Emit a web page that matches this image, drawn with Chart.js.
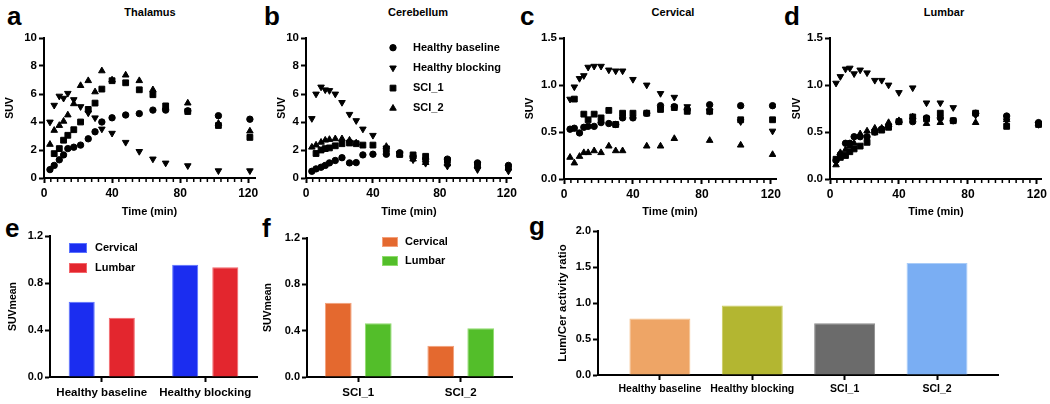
<!DOCTYPE html>
<html>
<head>
<meta charset="utf-8">
<script src="https://cdn.jsdelivr.net/npm/chart.js@4.4.1/dist/chart.umd.min.js"></script>
<style>
  html, body { margin: 0; padding: 0; background: #fff; }
  #fig { position: relative; width: 1050px; height: 404px; overflow: hidden;
         font-family: 'Liberation Sans', Arial, Helvetica, sans-serif; font-weight: bold; color: #000; }
  .box { position: absolute; }
  .letter { position: absolute; font-size: 26px; line-height: 26px; }
  .ptitle { position: absolute; font-size: 11px; line-height: 13px; transform: translateX(-50%); white-space: nowrap; }
</style>
</head>
<body>
<div id="fig">
  <div class="letter" style="left:7px;top:3px">a</div>
  <div class="letter" style="left:264px;top:3px">b</div>
  <div class="letter" style="left:520px;top:3px">c</div>
  <div class="letter" style="left:784px;top:3px">d</div>
  <div class="letter" style="left:5px;top:215px">e</div>
  <div class="letter" style="left:262px;top:215px">f</div>
  <div class="letter" style="left:529px;top:213px">g</div>

  <div class="ptitle" style="left:150px;top:6px">Thalamus</div>
  <div class="ptitle" style="left:418px;top:6px">Cerebellum</div>
  <div class="ptitle" style="left:673px;top:6px">Cervical</div>
  <div class="ptitle" style="left:944px;top:6px">Lumbar</div>

  <div class="box"><canvas id="chartA"></canvas></div>
  <div class="box"><canvas id="chartB"></canvas></div>
  <div class="box"><canvas id="chartC"></canvas></div>
  <div class="box"><canvas id="chartD"></canvas></div>
  <div class="box"><canvas id="chartE"></canvas></div>
  <div class="box"><canvas id="chartF"></canvas></div>
  <div class="box"><canvas id="chartG"></canvas></div>
</div>

<script>
const FONT = "'Liberation Sans', Arial, Helvetica, sans-serif";

// frame times (min), shared by all time-activity curves
const TIMES = [3.5, 6, 9, 11.5, 14, 17.5, 21.5, 26, 30, 34, 40, 48, 56, 64, 71.5, 84.5, 102.5, 121];
const SERIES_NAMES = ["Healthy baseline", "Healthy blocking", "SCI_1", "SCI_2"];

const THAL_BASELINE = [0.6, 0.9, 1.3, 1.65, 2.1, 2.2, 2.35, 2.8, 3.3, 4.0, 4.3, 4.5, 4.6, 4.85, 4.85, 4.8, 4.45, 4.2];
const THAL_BLOCKING = [4.0, 5.2, 5.85, 5.7, 6.05, 5.6, 5.1, 4.65, 4.3, 3.5, 3.2, 2.55, 1.9, 1.36, 1.07, 0.88, 0.52, 0.52];
const THAL_SCI1 = [null, 1.74, 2.1, 2.7, 3.05, 3.45, 4.0, 4.9, 5.35, 6.35, 6.95, 6.8, 6.3, 5.95, 5.15, 4.75, 3.75, 2.9];
const THAL_SCI2 = [2.4, 3.4, 3.75, 4.05, 4.5, 5.3, 6.6, 6.95, 6.15, 7.65, 7.0, 7.35, 6.95, 6.3, 5.05, 5.35, 3.9, 3.35];

const CER_BASELINE = [0.48, 0.65, 0.77, 0.9, 1.08, 1.25, 1.45, 1.08, 1.1, 1.65, 1.7, 1.7, 1.8, 1.55, 1.35, 1.35, 1.08, 0.9];
const CER_BLOCKING = [4.25, 6.0, 6.5, 6.3, 6.25, 6.0, 5.4, 4.55, 4.1, 3.5, 3.05, 2.15, 1.75, 1.3, 1.05, 0.85, 0.6, 0.5];
const CER_SCI1 = [null, 1.75, 2.0, 2.1, 2.15, 2.3, 2.45, 2.5, 2.45, 2.35, 2.35, 2.05, 1.68, 1.65, 1.55, 1.25, 0.95, 0.77];
const CER_SCI2 = [2.2, 2.35, 2.55, 2.7, 2.75, 2.8, 2.8, 2.7, 2.5, null, null, 2.25, 1.7, 1.35, 1.1, 1.0, 0.85, 0.7];

const CERV_BASELINE = [0.53, 0.54, 0.49, 0.55, 0.56, 0.56, 0.6, 0.59, 0.58, 0.65, 0.65, 0.7, 0.78, 0.77, 0.74, 0.79, 0.78, 0.78];
const CERV_BLOCKING = [0.85, 0.98, 1.07, 1.1, 1.19, 1.2, 1.2, 1.16, 1.15, 1.15, 1.06, 1.0, 0.91, 0.87, 0.77, 0.72, 0.61, 0.51];
const CERV_SCI1 = [null, 0.85, null, 0.69, 0.63, 0.69, 0.65, 0.73, 0.58, 0.7, 0.7, 0.7, 0.74, 0.76, 0.72, 0.72, 0.63, 0.63];
const CERV_SCI2 = [0.23, 0.17, 0.24, 0.28, 0.28, 0.3, 0.28, 0.35, 0.3, 0.3, null, 0.35, 0.35, 0.43, null, 0.41, 0.36, 0.26];

const LUMB_BASELINE = [0.2, 0.26, 0.38, 0.38, 0.45, 0.45, 0.45, 0.5, 0.53, 0.56, 0.61, 0.61, 0.65, 0.65, 0.62, 0.7, 0.67, 0.6];
const LUMB_BLOCKING = [1.02, 1.09, 1.17, 1.18, 1.12, 1.16, 1.13, 1.05, 1.05, 1.0, 0.92, 0.97, 0.81, 0.81, 0.76, 0.68, 0.62, 0.58];
const LUMB_SCI1 = [0.21, 0.23, 0.25, 0.29, 0.32, 0.35, 0.39, 0.5, 0.52, 0.55, 0.61, 0.66, 0.64, 0.7, 0.62, 0.7, 0.56, 0.58];
const LUMB_SCI2 = [0.15, 0.28, 0.31, 0.35, 0.38, 0.48, 0.51, 0.54, 0.54, 0.6, 0.62, 0.66, 0.59, 0.6, null, 0.6, 0.63, 0.59];

// SUVmean bars
const E_GROUPS = ["Healthy baseline", "Healthy blocking"];
const E_CERVICAL = [0.64, 0.955];
const E_LUMBAR = [0.505, 0.935];

const F_GROUPS = ["SCI_1", "SCI_2"];
const F_CERVICAL = [0.64, 0.27];
const F_LUMBAR = [0.465, 0.42];

// lumbar / cerebellum ratio
const G_GROUPS = ["Healthy baseline", "Healthy blocking", "SCI_1", "SCI_2"];
const G_RATIO = [0.785, 0.965, 0.72, 1.555];

const MARKERS = [
  { pointStyle: "circle", rotation: 0, radius: 3.2 },
  { pointStyle: "triangle", rotation: 180, radius: 3.8 },
  { pointStyle: "rect", rotation: 0, radius: 4.1 },
  { pointStyle: "triangle", rotation: 0, radius: 3.8 },
];

Chart.defaults.font.family = FONT;
Chart.defaults.font.weight = "bold";
Chart.defaults.color = "#000";
Chart.defaults.animation = false;
Chart.defaults.events = [];

// small ticks between the labelled time ticks
const minorTicks = {
  id: "minorTicks",
  afterDraw(chart, args, o) {
    if (!o.step) return;
    const sx = chart.scales.x;
    const ctx = chart.ctx;
    const bottom = chart.chartArea.bottom;
    ctx.save();
    ctx.strokeStyle = "#000";
    ctx.lineWidth = 1.5;
    for (let v = o.step; v <= o.upTo; v += o.step) {
      if (v % o.major === 0) continue;
      const px = sx.getPixelForValue(v);
      ctx.beginPath();
      ctx.moveTo(px, bottom);
      ctx.lineTo(px, bottom + 4);
      ctx.stroke();
    }
    ctx.restore();
  },
};

// legend placed inside the plot like the original figure
const panelLegend = {
  id: "panelLegend",
  afterDraw(chart, args, o) {
    if (!o.show) return;
    const { ctx, chartArea } = chart;
    ctx.save();
    ctx.textBaseline = "middle";
    chart.data.datasets.forEach((ds, i) => {
      const y = chartArea.top + o.dy + i * o.gap;
      const x = chartArea.left + o.dx;
      if (o.kind === "point") {
        ctx.fillStyle = "#000";
        ctx.strokeStyle = "#000";
        ctx.lineWidth = 1;
        Chart.helpers.drawPoint(ctx, {
          pointStyle: ds.pointStyle, rotation: ds.pointRotation, radius: ds.pointRadius, borderWidth: 1,
        }, x, y);
      } else {
        ctx.fillStyle = ds.backgroundColor;
        ctx.fillRect(x, y - o.boxH / 2, o.boxW, o.boxH);
        ctx.strokeStyle = ds.borderColor;
        ctx.lineWidth = 1;
        ctx.strokeRect(x + 0.5, y - o.boxH / 2 + 0.5, o.boxW - 1, o.boxH - 1);
      }
      ctx.font = `bold ${o.fontSize}px ${FONT}`;
      ctx.fillStyle = "#000";
      ctx.fillText(ds.label, chartArea.left + o.textDx, y);
    });
    ctx.restore();
  },
};

function place(canvasId, frame) {
  const box = document.getElementById(canvasId).parentNode;
  box.style.left = frame.x + "px";
  box.style.top = frame.y + "px";
  box.style.width = frame.w + "px";
  box.style.height = frame.h + "px";
}

function axisLines() {
  return {
    grid: { display: true, drawOnChartArea: false, drawTicks: true, tickLength: 5, tickWidth: 2, tickColor: "#000" },
    border: { display: true, color: "#000", width: 2 },
  };
}

function layoutFor(frame, area) {
  return {
    padding: { left: 0, bottom: 0, top: area.t - frame.y, right: frame.x + frame.w - area.r },
  };
}

function scatterPanel(canvasId, frame, area, o) {
  place(canvasId, frame);
  const yTitleSize = 10.5;
  const datasets = o.series.map((vals, i) => ({
    label: SERIES_NAMES[i],
    data: TIMES.map((t, j) => ({ x: t, y: vals[j] })).filter((p) => p.y !== null),
    pointStyle: MARKERS[i].pointStyle,
    pointRotation: MARKERS[i].rotation,
    pointRadius: MARKERS[i].radius,
    pointBackgroundColor: "#000",
    pointBorderColor: "#000",
    pointBorderWidth: 1,
  }));

  new Chart(document.getElementById(canvasId), {
    type: "scatter",
    data: { datasets },
    plugins: [minorTicks, panelLegend],
    options: {
      responsive: true,
      maintainAspectRatio: false,
      layout: layoutFor(frame, area),
      scales: {
        x: {
          type: "linear",
          min: 0,
          max: o.xMax,
          ...axisLines(),
          ticks: { stepSize: 40, includeBounds: false, padding: 3, font: { size: 12 } },
          title: { display: true, text: "Time (min)", font: { size: 11 }, padding: { top: 0, bottom: 3 } },
          afterFit: (s) => { s.height = frame.y + frame.h - area.b; },
        },
        y: {
          min: 0,
          max: o.yMax,
          ...axisLines(),
          ticks: { stepSize: o.yStep, padding: 2, font: { size: 11.5 }, callback: (v) => v.toFixed(o.decimals) },
          title: {
            display: true, text: "SUV", font: { size: yTitleSize },
            padding: { top: o.yTitleX - frame.x - yTitleSize * 0.6, bottom: 0 },
          },
          afterFit: (s) => { s.width = area.l - frame.x; },
        },
      },
      plugins: {
        legend: { display: false },
        tooltip: { enabled: false },
        minorTicks: { step: 4, major: 40, upTo: 120 },
        panelLegend: o.legend || {},
      },
    },
  });
}

function barPanel(canvasId, frame, area, o) {
  place(canvasId, frame);
  const ySize = o.yTitleSize;
  const xAxis = o.linear
    ? {
        type: "linear", min: o.xMin, max: o.xMax, offset: false,
        ticks: { stepSize: 1, includeBounds: false, autoSkip: false, maxRotation: 0, padding: 3,
                 font: { size: o.xFont }, callback: (v) => o.groups[v] },
      }
    : {
        type: "category", offset: true,
        ticks: { autoSkip: false, maxRotation: 0, padding: 4, font: { size: o.xFont } },
      };
  const lines = axisLines();
  lines.grid.offset = false;

  new Chart(document.getElementById(canvasId), {
    type: "bar",
    data: { labels: o.linear ? undefined : o.groups, datasets: o.datasets },
    plugins: [panelLegend],
    options: {
      responsive: true,
      maintainAspectRatio: false,
      layout: layoutFor(frame, area),
      datasets: { bar: { categoryPercentage: o.catPct, barPercentage: o.barPct } },
      scales: {
        x: {
          ...xAxis,
          ...lines,
          afterFit: (s) => { s.height = frame.y + frame.h - area.b; },
        },
        y: {
          min: 0,
          max: o.yMax,
          ...axisLines(),
          ticks: { stepSize: o.yStep, padding: 2, font: { size: 11 }, callback: (v) => v.toFixed(1) },
          title: {
            display: true, text: o.yTitle, font: { size: ySize },
            padding: { top: o.yTitleX - frame.x - ySize * 0.6, bottom: 0 },
          },
          afterFit: (s) => { s.width = area.l - frame.x; },
        },
      },
      plugins: {
        legend: { display: false },
        tooltip: { enabled: false },
        panelLegend: o.legend || {},
      },
    },
  });
}

scatterPanel("chartA", { x: 0, y: 20, w: 262, h: 202 }, { l: 44, t: 38, r: 255, b: 178 }, {
  series: [THAL_BASELINE, THAL_BLOCKING, THAL_SCI1, THAL_SCI2],
  xMax: 124, yMax: 10, yStep: 2, decimals: 0, yTitleX: 10.5,
});

scatterPanel("chartB", { x: 272, y: 20, w: 248, h: 202 }, { l: 306, t: 38, r: 512, b: 178 }, {
  series: [CER_BASELINE, CER_BLOCKING, CER_SCI1, CER_SCI2],
  xMax: 123, yMax: 10, yStep: 2, decimals: 0, yTitleX: 282,
  legend: { show: true, kind: "point", dx: 87, textDx: 107, dy: 9.7, gap: 20.2, fontSize: 11 },
});

scatterPanel("chartC", { x: 520, y: 20, w: 264, h: 202 }, { l: 564, t: 38, r: 778, b: 179 }, {
  series: [CERV_BASELINE, CERV_BLOCKING, CERV_SCI1, CERV_SCI2],
  xMax: 123, yMax: 1.5, yStep: 0.5, decimals: 1, yTitleX: 530.5,
});

scatterPanel("chartD", { x: 786, y: 20, w: 264, h: 202 }, { l: 830, t: 38, r: 1043, b: 179 }, {
  series: [LUMB_BASELINE, LUMB_BLOCKING, LUMB_SCI1, LUMB_SCI2],
  xMax: 123, yMax: 1.5, yStep: 0.5, decimals: 1, yTitleX: 797,
});

barPanel("chartE", { x: 0, y: 226, w: 262, h: 178 }, { l: 50, t: 236, r: 257, b: 377 }, {
  groups: E_GROUPS,
  datasets: [
    { label: "Cervical", data: E_CERVICAL, backgroundColor: "#1b2df0", borderColor: "#5a72ff", borderWidth: 1 },
    { label: "Lumbar", data: E_LUMBAR, backgroundColor: "#e3262e", borderColor: "#f3666b", borderWidth: 1 },
  ],
  catPct: 0.775, barPct: 0.65, xFont: 11.5,
  yMax: 1.2, yStep: 0.4, yTitle: "SUVmean", yTitleSize: 10.5, yTitleX: 13,
  legend: { show: true, kind: "box", dx: 19, textDx: 45, dy: 12, gap: 20, boxW: 18, boxH: 10, fontSize: 11 },
});

barPanel("chartF", { x: 258, y: 226, w: 262, h: 178 }, { l: 307, t: 238, r: 512, b: 377 }, {
  groups: F_GROUPS,
  datasets: [
    { label: "Cervical", data: F_CERVICAL, backgroundColor: "#e4692f", borderColor: "#f4a07a", borderWidth: 1 },
    { label: "Lumbar", data: F_LUMBAR, backgroundColor: "#53be2a", borderColor: "#8fdc6c", borderWidth: 1 },
  ],
  catPct: 0.78, barPct: 0.67, xFont: 11.5,
  yMax: 1.2, yStep: 0.4, yTitle: "SUVmean", yTitleSize: 10.5, yTitleX: 268,
  legend: { show: true, kind: "box", dx: 75, textDx: 98, dy: 4, gap: 19, boxW: 16, boxH: 10, fontSize: 11 },
});

barPanel("chartG", { x: 552, y: 222, w: 498, h: 182 }, { l: 598, t: 231, r: 998, b: 375 }, {
  groups: G_GROUPS,
  linear: true, xMin: -0.67, xMax: 3.66,
  datasets: [{
    label: "Lum/Cer",
    data: G_RATIO.map((v, i) => ({ x: i, y: v })),
    backgroundColor: ["#eea566", "#b3b631", "#6b6b6b", "#7aaef3"],
    borderColor: ["#f5c089", "#cbcd5c", "#8c8c8c", "#a9ccf8"],
    borderWidth: 1,
  }],
  catPct: 0.8, barPct: 0.825, xFont: 10.5,
  yMax: 2.0, yStep: 0.5, yTitle: "Lum/Cer activity ratio", yTitleSize: 11.5, yTitleX: 563,
});
</script>
</body>
</html>
